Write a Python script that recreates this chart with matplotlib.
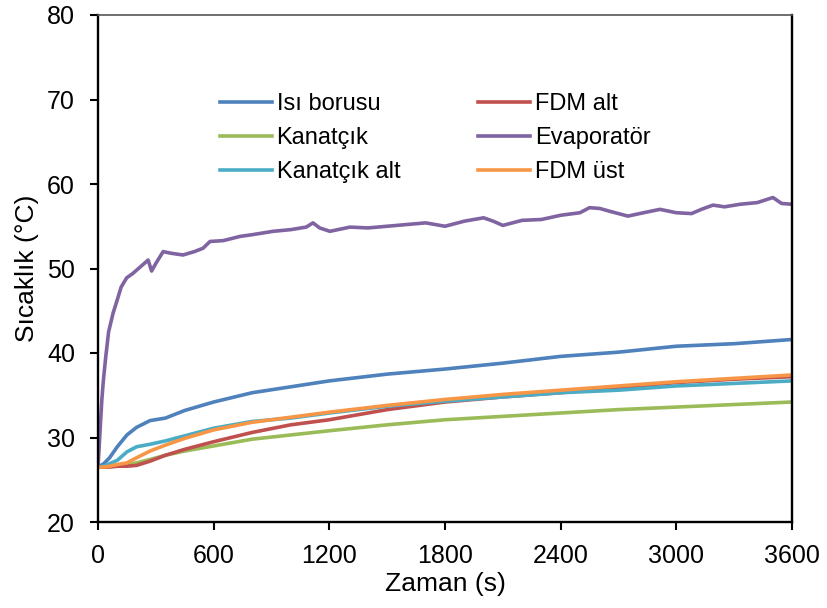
import matplotlib
matplotlib.use("Agg")
import matplotlib.pyplot as plt

plt.rcParams['font.family'] = ['Liberation Sans', 'DejaVu Sans']

t = [0, 30, 60, 100, 150, 200, 270, 350, 450, 600, 800, 1000, 1200, 1500,
     1800, 2100, 2400, 2700, 3000, 3300, 3600]
isi_borusu = [26.5, 26.9, 27.6, 28.9, 30.3, 31.2, 32.0, 32.3, 33.2, 34.2, 35.3,
              36.0, 36.7, 37.5, 38.1, 38.8, 39.6, 40.1, 40.8, 41.1, 41.6]
kanatcik = [26.5, 26.5, 26.6, 26.7, 26.8, 27.0, 27.4, 27.9, 28.4, 29.0, 29.8,
            30.3, 30.8, 31.5, 32.1, 32.5, 32.9, 33.3, 33.6, 33.9, 34.2]
fdm_alt = [26.5, 26.5, 26.5, 26.6, 26.6, 26.7, 27.2, 27.9, 28.6, 29.5, 30.6,
           31.5, 32.1, 33.3, 34.2, 34.8, 35.3, 35.9, 36.5, 36.9, 37.2]
kanatcik_alt = [26.5, 26.6, 26.9, 27.3, 28.3, 28.9, 29.2, 29.6, 30.2, 31.1, 31.9,
                32.3, 32.9, 33.7, 34.3, 34.8, 35.3, 35.6, 36.1, 36.4, 36.7]
fdm_ust = [26.5, 26.5, 26.6, 26.8, 27.0, 27.6, 28.4, 29.1, 29.9, 30.9, 31.8,
           32.4, 33.0, 33.8, 34.5, 35.1, 35.6, 36.1, 36.6, 37.0, 37.4]

t_evap = [0, 10, 20, 28, 40, 55, 78, 100, 120, 149, 180, 210, 240, 260, 278, 300,
          338, 380, 441, 500, 545, 581, 650, 737, 800, 908, 1000, 1080, 1115, 1150,
          1203, 1307, 1400, 1500, 1600, 1700, 1800, 1900, 2000, 2050, 2100, 2200,
          2300, 2400, 2500, 2550, 2604, 2650, 2749, 2830, 2915, 3000, 3079, 3130,
          3190, 3250, 3330, 3420, 3501, 3546, 3600]
evaporator = [26.5, 30.5, 34.5, 36.8, 39.5, 42.5, 44.7, 46.3, 47.8, 48.9, 49.4,
              50.0, 50.6, 51.0, 49.7, 50.6, 52.0, 51.8, 51.6, 52.0, 52.4, 53.2,
              53.3, 53.8, 54.0, 54.4, 54.6, 54.9, 55.4, 54.8, 54.4, 54.9, 54.8,
              55.0, 55.2, 55.4, 55.0, 55.6, 56.0, 55.6, 55.1, 55.7, 55.8, 56.3,
              56.6, 57.2, 57.1, 56.8, 56.2, 56.6, 57.0, 56.6, 56.5, 57.0, 57.5,
              57.3, 57.6, 57.8, 58.4, 57.7, 57.6]

x_ticks = [0, 600, 1200, 1800, 2400, 3000, 3600]
y_ticks = [20, 30, 40, 50, 60, 70, 80]

fig = plt.figure(figsize=(8.27, 6.08), dpi=100)
ax = fig.add_axes([98/827, 1-522/608, (792-98)/827, (522-15)/608])

lw = 2.6
l1, = ax.plot(t, isi_borusu, color='#4F81BD', lw=lw, label='Isı borusu')
l2, = ax.plot(t, kanatcik, color='#9BBB59', lw=lw, label='Kanatçık')
l4, = ax.plot(t, fdm_alt, color='#C0504D', lw=lw, label='FDM alt')
l3, = ax.plot(t, kanatcik_alt, color='#4BACC6', lw=lw, label='Kanatçık alt')
l5, = ax.plot(t_evap, evaporator, color='#8064A2', lw=lw, label='Evaporatör')
l6, = ax.plot(t, fdm_ust, color='#F79646', lw=lw, label='FDM üst')

ax.set_xlim(0, 3600)
ax.set_ylim(20, 80)
ax.set_xticks(x_ticks)
ax.set_yticks(y_ticks)
ax.tick_params(labelsize=18, direction='out', length=5.5, width=1.5, colors='black')
ax.tick_params(axis='y', pad=11)
ax.tick_params(axis='x', pad=10.5)
for s in ['left', 'bottom', 'right']:
    ax.spines[s].set_linewidth(1.7)
    ax.spines[s].set_color('black')
ax.spines['top'].set_linewidth(1.2)
ax.spines['top'].set_color('#555555')

ax.set_xlabel('Zaman (s)', fontsize=19, labelpad=3)
ax.set_ylabel('Sıcaklık (°C)', fontsize=19, labelpad=6)

ax.legend(handles=[l1, l2, l3, l4, l5, l6], ncol=2, frameon=False, fontsize=17,
          loc='upper left', bbox_to_anchor=(0.162, 0.865),
          handlelength=2.2, handletextpad=0.2, columnspacing=3.3,
          labelspacing=0.51, borderaxespad=0)

fig.savefig('out.png', dpi=100)
